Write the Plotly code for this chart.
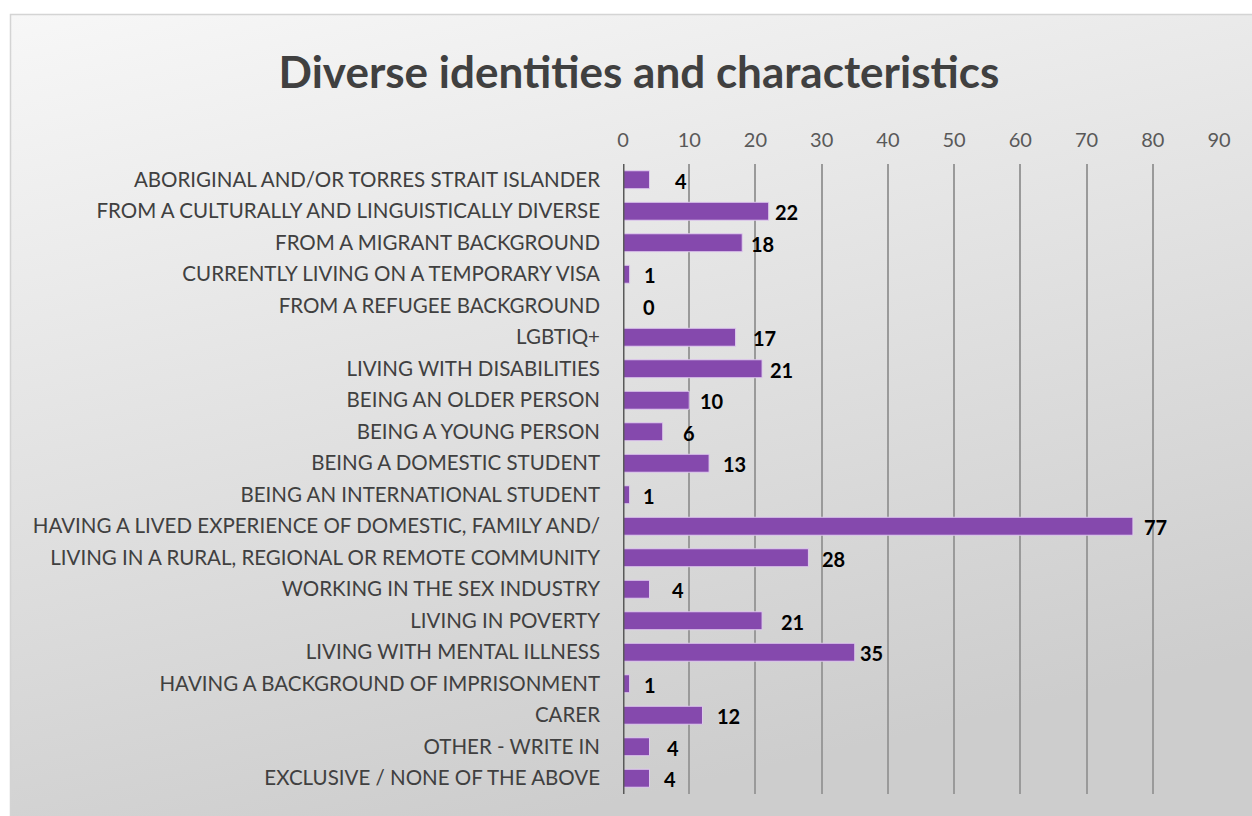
import base64
import plotly.graph_objects as go

categories = [
    "ABORIGINAL AND/OR TORRES STRAIT ISLANDER",
    "FROM A CULTURALLY AND LINGUISTICALLY DIVERSE",
    "FROM A MIGRANT BACKGROUND",
    "CURRENTLY LIVING ON A TEMPORARY VISA",
    "FROM A REFUGEE BACKGROUND",
    "LGBTIQ+",
    "LIVING WITH DISABILITIES",
    "BEING AN OLDER PERSON",
    "BEING A YOUNG PERSON",
    "BEING A DOMESTIC STUDENT",
    "BEING AN INTERNATIONAL STUDENT",
    "HAVING A LIVED EXPERIENCE OF DOMESTIC, FAMILY AND/",
    "LIVING IN A RURAL, REGIONAL OR REMOTE COMMUNITY",
    "WORKING IN THE SEX INDUSTRY",
    "LIVING IN POVERTY",
    "LIVING WITH MENTAL ILLNESS",
    "HAVING A BACKGROUND OF IMPRISONMENT",
    "CARER",
    "OTHER - WRITE IN",
    "EXCLUSIVE / NONE OF THE ABOVE",
]
counts = [4, 22, 18, 1, 0, 17, 21, 10, 6, 13, 1, 77, 28, 4, 21, 35, 1, 12, 4, 4]
x_ticks = list(range(0, 100, 10))

# pixel gap between each bar end and its value label
label_gaps = [26, 6, 9, 14, 20, 17, 8, 11, 20, 14, 13, 11, 14, 23, 19, 5, 14, 15, 18, 15]

W, H = 1252, 816
ML, MR, MT, MB = 623, 33, 164, 22
pw, ph = W - ML - MR, H - MT - MB

FONT = "Lato"
BAR = "#8549AD"

fig = go.Figure(
    go.Bar(
        x=counts,
        y=categories,
        orientation="h",
        width=0.57,
        marker=dict(color=BAR, line=dict(color="rgba(225,205,240,0.95)", width=1)),
        hoverinfo="x+y",
    )
)

for cat, v, g in zip(categories, counts, label_gaps):
    fig.add_annotation(
        x=v, y=cat, xref="x", yref="y", text=f"<b>{v}</b>",
        showarrow=False, xanchor="left", xshift=g - 2, yshift=-1,
        font=dict(family=FONT, size=20, color="#000000"),
    )

# soft grey gradient panel behind the chart
svg = (
    '<svg xmlns="http://www.w3.org/2000/svg" width="100" height="100" preserveAspectRatio="none">'
    '<defs><linearGradient id="g" x1="0" y1="0" x2="0.35" y2="1">'
    '<stop offset="0" stop-color="#F7F7F7"/><stop offset="1" stop-color="#CDCDCD"/>'
    '</linearGradient></defs><rect width="100" height="100" fill="url(#g)"/></svg>'
)
src = "data:image/svg+xml;base64," + base64.b64encode(svg.encode()).decode()

def px(x):
    return (x - ML) / pw

def py(y):
    return (H - MB - y) / ph

box_x0, box_y0, box_x1, box_y1 = 10.5, 14.5, 1270, 840
fig.add_layout_image(
    source=src, xref="paper", yref="paper",
    x=px(box_x0), y=py(box_y0),
    sizex=px(box_x1) - px(box_x0), sizey=py(box_y0) - py(box_y1),
    xanchor="left", yanchor="top", sizing="stretch", layer="below",
)
fig.add_shape(
    type="rect", xref="paper", yref="paper",
    x0=px(box_x0), y0=py(box_y1), x1=px(box_x1), y1=py(box_y0),
    line=dict(color="#D4D4D4", width=1.5), fillcolor="rgba(0,0,0,0)", layer="below",
)
# value axis baseline
fig.add_shape(
    type="line", xref="x", yref="paper", x0=0, x1=0, y0=0, y1=1,
    line=dict(color="#595959", width=3),
)

fig.update_layout(
    width=W, height=H,
    margin=dict(l=ML, r=MR, t=MT, b=MB),
    paper_bgcolor="white",
    plot_bgcolor="rgba(0,0,0,0)",
    showlegend=False,
    title=dict(
        text="<b>Diverse identities and characteristics</b>",
        x=639 / W, xanchor="center", y=1 - 73 / H, yanchor="middle",
        font=dict(family=FONT, size=44, color="#404040"),
    ),
    xaxis=dict(
        side="top", range=[0, 90], tickvals=x_ticks,
        showgrid=True, gridcolor="#9A9A9A", gridwidth=1.5,
        zeroline=False, showline=False, ticks="",
        ticklabelstandoff=12,
        tickfont=dict(family=FONT, size=20, color="#595959"),
        fixedrange=True,
    ),
    yaxis=dict(
        autorange="reversed", showgrid=False, zeroline=False, showline=False,
        ticks="", ticklabelstandoff=22,
        tickfont=dict(family=FONT, size=20.5, color="#404040"),
        fixedrange=True,
    ),
    bargap=0.43,
)

fig.write_html("out.html")
